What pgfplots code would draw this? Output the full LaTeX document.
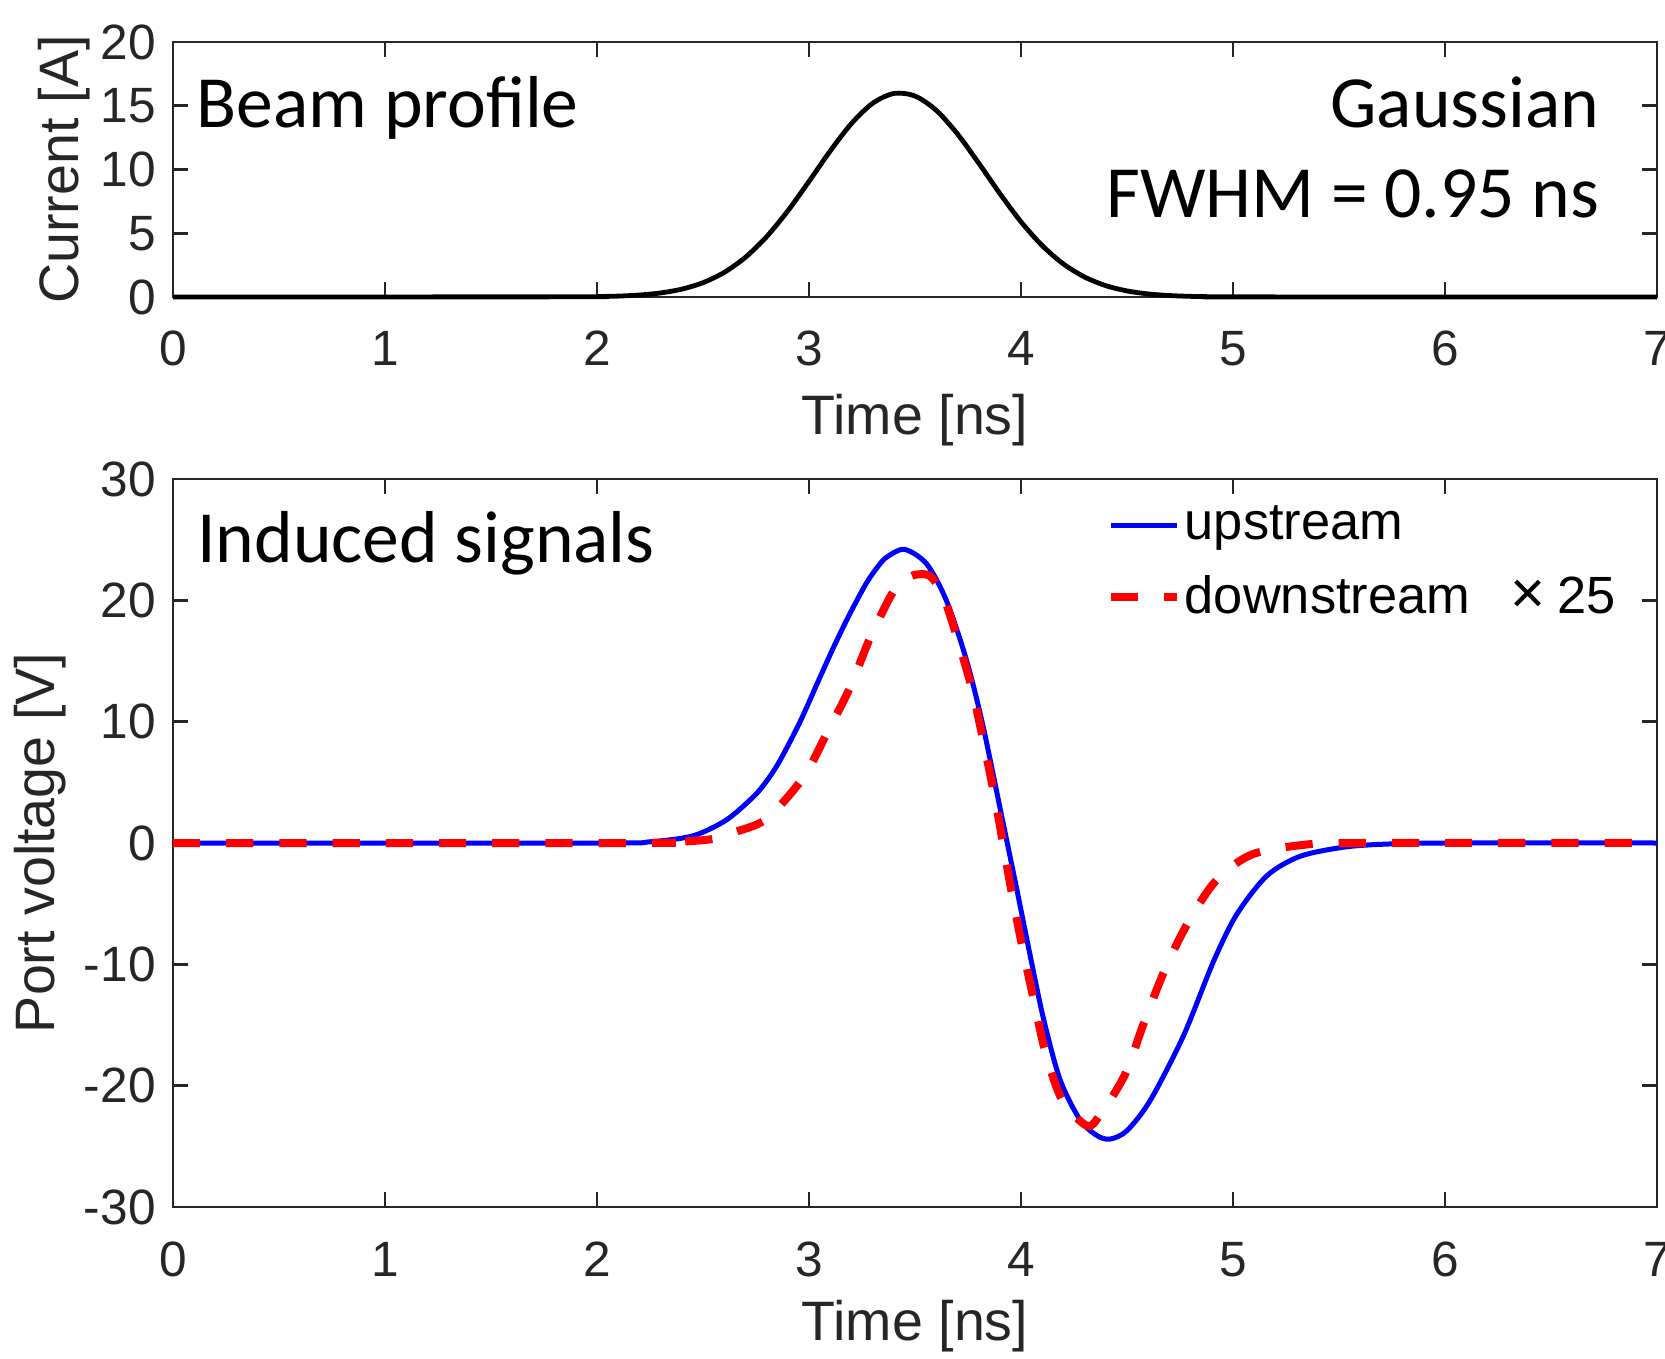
\documentclass[border=0pt]{standalone}
\usepackage{fontspec}
\setmainfont{Liberation Sans}
\newfontfamily\calfont{Carlito}
\usepackage{pgfplots}
\pgfplotsset{compat=1.18}
\definecolor{axgray}{gray}{0.15}
\begin{document}
\begin{tikzpicture}
\useasboundingbox (0,0) rectangle (416.25pt,339.5pt);
\pgfplotsset{
 common/.style={
  scale only axis, width=371pt, xmin=0, xmax=7,
  xtick={0,1,2,3,4,5,6,7}, xticklabels={0,1,2,3,4,5,6,7},
  axis line style={axgray, line width=0.7pt},
  every tick/.style={axgray, line width=0.7pt},
  major tick length=3.8pt, tick align=inside, tick pos=both,
  ticklabel style={font=\fontsize{12.4}{14}\selectfont, text=axgray},
  xticklabel style={anchor=base, yshift=-17.25pt},
  yticklabel style={xshift=-0.8pt},
  label style={font=\fontsize{13.9}{16}\selectfont, text=axgray},
  clip=false,
 }
}
\begin{axis}[common, at={(43.25pt,265.25pt)}, anchor=south west, height=63.75pt,
 ymin=0, ymax=20, ytick={0,5,10,15,20}, yticklabels={0,5,10,15,20},
 xlabel={Time [ns]}, xlabel style={at={(axis description cs:0.5,-0.538)}, anchor=base},
 ylabel={Current [A]}, ylabel style={at={(axis description cs:-0.0737,0.5)}, anchor=center},
]
\addplot[black, line width=1.2pt, smooth] coordinates {
(0,0) (1.9,0.012) (2.0,0.030) (2.1,0.070) (2.2,0.153) (2.3,0.317) (2.4,0.615)
(2.5,1.122) (2.6,1.928) (2.7,3.112) (2.8,4.728) (2.9,6.750) (3.0,9.066)
(3.1,11.45) (3.2,13.60) (3.3,15.19) (3.4,15.96) (3.5,15.76) (3.6,14.64)
(3.7,12.79) (3.8,10.51) (3.9,8.117) (4.0,5.896) (4.1,4.029) (4.2,2.589)
(4.3,1.565) (4.4,0.888) (4.5,0.475) (4.6,0.239) (4.7,0.113) (4.8,0.050)
(4.9,0.021) (5.0,0.008) (7,0)};
\node[anchor=base west, inner sep=0pt, font=\calfont\fontsize{18.4}{22}\selectfont] at (rel axis cs:0.0155,0.665) {Beam profile};
\node[anchor=base east, inner sep=0pt, font=\calfont\fontsize{18.4}{22}\selectfont] at (rel axis cs:0.9616,0.665) {Gaussian};
\node[anchor=base east, inner sep=0pt, font=\calfont\fontsize{18.4}{22}\selectfont] at (rel axis cs:0.9616,0.311) {FWHM = 0.95 ns};
\end{axis}

\begin{axis}[common, at={(43.25pt,37.75pt)}, anchor=south west, height=182pt,
 ymin=-30, ymax=30, ytick={-30,-20,-10,0,10,20,30}, yticklabels={-30,-20,-10,0,10,20,30},
 xlabel={Time [ns]}, xlabel style={at={(axis description cs:0.5,-0.1827)}, anchor=base},
 ylabel={Port voltage [V]}, ylabel style={at={(axis description cs:-0.0894,0.5)}, anchor=center},
 legend style={draw=none, fill=none, at={(rel axis cs:0.6287,0.970)}, anchor=north west,
   font=\fontsize{13.1}{15}\selectfont, inner sep=0pt, row sep=5.4pt, nodes={inner sep=1pt}},
 legend cell align=left,
 legend image code/.code={\draw[#1] (0pt,0pt) -- (16.5pt,0pt);},
]
\addplot[blue, line width=1.25pt, smooth] coordinates {
(0,0) (2.0,0) (2.25,0.1) (2.454,0.6) (2.61,1.9) (2.737,3.8) (2.80,5.1) (2.863,6.8)
(2.958,10.0) (3.04,13.2) (3.115,16.1) (3.19,18.8) (3.27,21.4) (3.33,22.9) (3.37,23.6) (3.45,24.2)
(3.555,23.0) (3.65,19.9) (3.744,15.0) (3.82,9.7) (3.909,2.2) (3.98,-3.8) (4.04,-9.0)
(4.105,-14.4) (4.184,-19.5) (4.278,-22.8) (4.357,-24.1) (4.42,-24.4) (4.50,-23.7)
(4.61,-21.2) (4.766,-15.9) (4.907,-9.8) (5.017,-5.9) (5.16,-2.7) (5.316,-1.1)
(5.52,-0.35) (5.71,-0.1) (6.0,0) (7,0)};
\addlegendentry{upstream}
\addplot[red, line width=2pt, dash pattern=on 6.8pt off 6.5pt, smooth] coordinates {
(0,0) (2.2,0) (2.33,0.05) (2.533,0.3) (2.65,0.9) (2.80,2.0) (2.973,5.4)
(3.083,9.0) (3.193,12.8) (3.288,16.9) (3.39,20.5) (3.445,21.6) (3.50,22.1)
(3.571,22.0) (3.634,20.3) (3.697,17.0) (3.767,12.8) (3.815,9.0) (3.88,3.4)
(3.948,-3.3) (4.003,-8.3) (4.058,-12.75) (4.113,-17.1) (4.192,-21.1) (4.31,-23.3)
(4.373,-22.4) (4.49,-19.1) (4.577,-14.95) (4.67,-10.8) (4.774,-7.0) (4.915,-3.2)
(5.09,-0.94) (5.36,-0.1) (5.6,0) (7,0)};
\addlegendentry{downstream\hspace{10pt}{\fontsize{15}{15}\selectfont ×}\hspace{3pt}25}
\node[anchor=base west, inner sep=0pt, font=\calfont\fontsize{18.4}{22}\selectfont] at (rel axis cs:0.0158,0.885) {Induced signals};
\end{axis}
\end{tikzpicture}
\end{document}
